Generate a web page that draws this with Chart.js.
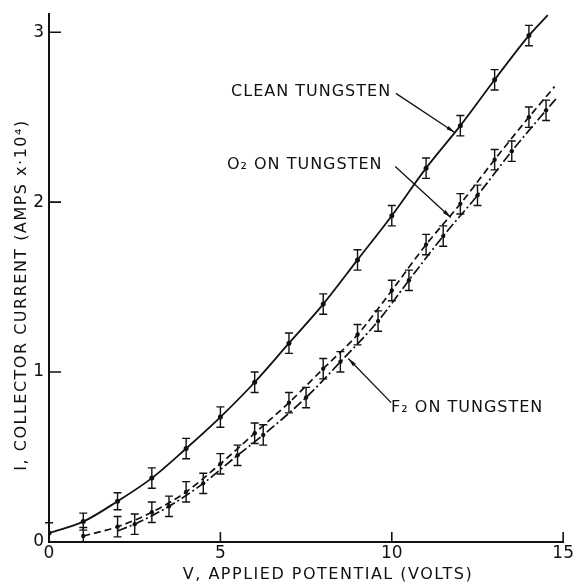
<!DOCTYPE html>
<html>
<head>
<meta charset="utf-8">
<script src="https://cdn.jsdelivr.net/npm/chart.js@4.4.1/dist/chart.umd.min.js"></script>
<style>
    html, body { margin: 0; padding: 0; background: #fff; }
    #wrap { width: 577px; height: 584px; position: relative; }
</style>
</head>
<body>
<div id="wrap"><canvas id="ivChart"></canvas></div>
<script>
// applied potential (volts) and collector current (amps x 10^4)
var cleanVolts = [0, 1, 2, 3, 4, 5, 6, 7, 8, 9, 10, 11, 12, 13, 14];
var cleanAmps = [0.053, 0.12, 0.24, 0.376, 0.55, 0.735, 0.94, 1.17, 1.40, 1.66, 1.92, 2.20, 2.45, 2.72, 2.98];
var cleanErr = [0.06, 0.05, 0.05, 0.06, 0.06, 0.06, 0.06, 0.06, 0.06, 0.06, 0.06, 0.06, 0.06, 0.06, 0.06];

var o2Volts = [1, 2, 3, 4, 5, 6, 7, 8, 9, 10, 11, 12, 13, 14];
var o2Amps = [0.035, 0.09, 0.175, 0.295, 0.46, 0.64, 0.82, 1.02, 1.22, 1.48, 1.75, 1.99, 2.25, 2.50];
var o2Err = [0.05, 0.06, 0.06, 0.06, 0.06, 0.06, 0.06, 0.06, 0.06, 0.06, 0.06, 0.06, 0.06, 0.06];

var f2Volts = [2.5, 3.5, 4.5, 5.5, 6.25, 7.5, 8.5, 9.6, 10.5, 11.5, 12.5, 13.5, 14.5];
var f2Amps = [0.105, 0.21, 0.345, 0.51, 0.63, 0.85, 1.06, 1.30, 1.54, 1.80, 2.04, 2.30, 2.54];
var f2Err = [0.06, 0.06, 0.06, 0.06, 0.06, 0.06, 0.06, 0.06, 0.06, 0.06, 0.06, 0.06, 0.06];

// where the drawn curves start / stop beyond the measured points
var cleanCurveEnd = [14.55, 3.10];
var o2CurveEnd = [14.75, 2.68];
var f2CurveStart = [2.0, 0.065];
var f2CurveEnd = [14.8, 2.61];

var xTicks = [0, 5, 10, 15];
var yTicks = [0, 1, 2, 3];

var ink = '#111';
var font = '"DejaVu Sans", sans-serif';

function pts(xs, ys) {
    return xs.map(function (v, i) { return { x: v, y: ys[i] }; });
}

var cleanCurve = pts(cleanVolts, cleanAmps).concat([{ x: cleanCurveEnd[0], y: cleanCurveEnd[1] }]);
var o2Curve = pts(o2Volts, o2Amps).concat([{ x: o2CurveEnd[0], y: o2CurveEnd[1] }]);
var f2Curve = [{ x: f2CurveStart[0], y: f2CurveStart[1] }].concat(pts(f2Volts, f2Amps), [{ x: f2CurveEnd[0], y: f2CurveEnd[1] }]);

var errorSets = [
    { xs: cleanVolts, ys: cleanAmps, err: cleanErr },
    { xs: o2Volts, ys: o2Amps, err: o2Err },
    { xs: f2Volts, ys: f2Amps, err: f2Err }
];

// label text, anchor (data units) and arrow from/to (data units)
var notes = [
    { text: 'CLEAN TUNGSTEN', align: 'right', at: [9.98, 2.65], from: [10.12, 2.64], to: [11.84, 2.41] },
    { text: 'O\u2082 ON TUNGSTEN', align: 'left', at: [5.19, 2.22], from: [10.1, 2.21], to: [11.72, 1.91] },
    { text: 'F\u2082 ON TUNGSTEN', align: 'left', at: [9.98, 0.79], from: [9.98, 0.82], to: [8.73, 1.08] }
];

function arrow(ctx, x1, y1, x2, y2) {
    var a = Math.atan2(y2 - y1, x2 - x1);
    ctx.beginPath();
    ctx.moveTo(x1, y1);
    ctx.lineTo(x2, y2);
    ctx.stroke();
    ctx.beginPath();
    ctx.moveTo(x2, y2);
    ctx.lineTo(x2 - 9 * Math.cos(a - 0.22), y2 - 9 * Math.sin(a - 0.22));
    ctx.lineTo(x2 - 9 * Math.cos(a + 0.22), y2 - 9 * Math.sin(a + 0.22));
    ctx.closePath();
    ctx.fill();
}

var decor = {
    id: 'decor',
    afterDatasetsDraw: function (chart) {
        var ctx = chart.ctx, x = chart.scales.x, y = chart.scales.y;
        ctx.save();
        ctx.strokeStyle = ink;
        ctx.lineWidth = 1.4;
        errorSets.forEach(function (set) {
            set.xs.forEach(function (v, i) {
                var px = x.getPixelForValue(v);
                var lo = set.ys[i] - set.err[i];
                var top = y.getPixelForValue(set.ys[i] + set.err[i]);
                var bot = y.getPixelForValue(Math.max(0, lo));
                ctx.beginPath();
                ctx.moveTo(px, top);
                ctx.lineTo(px, bot);
                ctx.moveTo(px - 4, top);
                ctx.lineTo(px + 4, top);
                if (lo > 0) {
                    ctx.moveTo(px - 4, bot);
                    ctx.lineTo(px + 4, bot);
                }
                ctx.stroke();
            });
        });
        ctx.restore();
    },
    afterDraw: function (chart) {
        var ctx = chart.ctx, x = chart.scales.x, y = chart.scales.y;
        var area = chart.chartArea;
        ctx.save();
        ctx.strokeStyle = ink;
        ctx.fillStyle = ink;

        // inward tick marks
        ctx.lineWidth = 1.6;
        ctx.beginPath();
        yTicks.forEach(function (t) {
            if (t === 0) return;
            var py = y.getPixelForValue(t);
            ctx.moveTo(area.left, py);
            ctx.lineTo(area.left + 12, py);
        });
        xTicks.forEach(function (t) {
            if (t === 0) return;
            var px = x.getPixelForValue(t);
            ctx.moveTo(px, area.bottom);
            ctx.lineTo(px, area.bottom - 10);
        });
        ctx.stroke();

        // curve labels with pointer arrows
        ctx.font = '16px ' + font;
        ctx.letterSpacing = '1px';
        ctx.textBaseline = 'middle';
        ctx.lineWidth = 1.3;
        notes.forEach(function (n) {
            ctx.textAlign = n.align;
            ctx.fillText(n.text, x.getPixelForValue(n.at[0]), y.getPixelForValue(n.at[1]));
            arrow(ctx, x.getPixelForValue(n.from[0]), y.getPixelForValue(n.from[1]),
                x.getPixelForValue(n.to[0]), y.getPixelForValue(n.to[1]));
        });

        // axis titles
        ctx.letterSpacing = '1.5px';
        ctx.textAlign = 'center';
        ctx.fillText('V, APPLIED POTENTIAL (VOLTS)', 328, 575);
        ctx.translate(22, 295);
        ctx.rotate(-Math.PI / 2);
        ctx.fillText('I, COLLECTOR CURRENT (AMPS x\u00b710\u2074)', 0, 0);
        ctx.restore();
    }
};

new Chart(document.getElementById('ivChart').getContext('2d'), {
    type: 'scatter',
    data: {
        datasets: [
            { data: cleanCurve, showLine: true, borderColor: ink, borderWidth: 1.8, pointRadius: 0, cubicInterpolationMode: 'monotone' },
            { data: o2Curve, showLine: true, borderColor: ink, borderWidth: 1.7, borderDash: [7, 4], pointRadius: 0, cubicInterpolationMode: 'monotone' },
            { data: f2Curve, showLine: true, borderColor: ink, borderWidth: 1.7, borderDash: [10, 3, 2, 3], pointRadius: 0, cubicInterpolationMode: 'monotone' },
            { data: pts(cleanVolts, cleanAmps), pointRadius: 2.5, backgroundColor: ink, borderWidth: 0 },
            { data: pts(o2Volts, o2Amps), pointRadius: 2.2, backgroundColor: ink, borderWidth: 0 },
            { data: pts(f2Volts, f2Amps), pointRadius: 2.2, backgroundColor: ink, borderWidth: 0 }
        ]
    },
    options: {
        responsive: true,
        maintainAspectRatio: false,
        animation: false,
        layout: { padding: { left: 0, right: 11, top: 13, bottom: 0 } },
        plugins: {
            legend: { display: false },
            tooltip: { enabled: false }
        },
        scales: {
            x: {
                type: 'linear',
                min: 0,
                max: 15,
                afterBuildTicks: function (s) { s.ticks = xTicks.map(function (v) { return { value: v }; }); },
                afterFit: function (s) { s.height = 42; },
                grid: { drawOnChartArea: false, drawTicks: false },
                border: { color: ink, width: 2 },
                ticks: { padding: 3, color: ink, font: { size: 17, family: font, lineHeight: 1 } }
            },
            y: {
                min: 0,
                max: 3.11,
                afterBuildTicks: function (s) { s.ticks = yTicks.map(function (v) { return { value: v }; }); },
                afterFit: function (s) { s.width = 49; },
                grid: { drawOnChartArea: false, drawTicks: false },
                border: { color: ink, width: 2 },
                ticks: { padding: 5, color: ink, font: { size: 17, family: font, lineHeight: 1 } }
            }
        }
    },
    plugins: [decor]
});
</script>
</body>
</html>
